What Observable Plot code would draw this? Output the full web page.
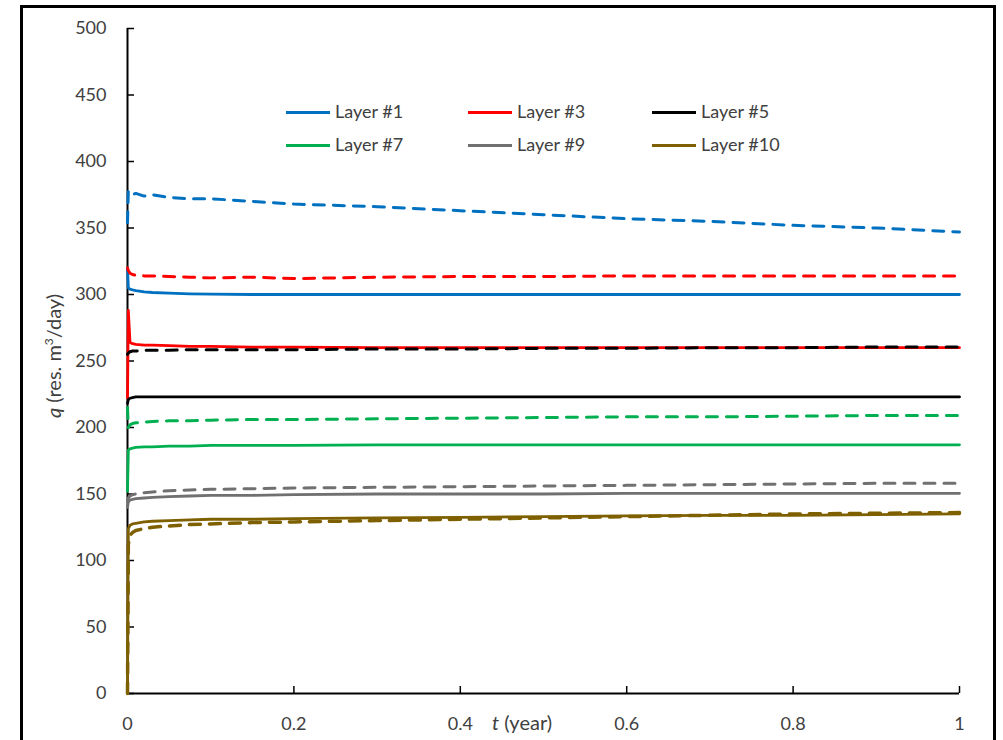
<!DOCTYPE html>
<html>
<head>
<meta charset="utf-8">
<script src="https://cdn.jsdelivr.net/npm/d3@7"></script>
<script src="https://cdn.jsdelivr.net/npm/@observablehq/plot@0.6"></script>
<style>
  html, body { margin: 0; padding: 0; background: #fff; overflow: hidden; }
  #wrap { position: relative; width: 1003px; height: 740px; font-family: Lato, "Open Sans", sans-serif; color: #404040; }
  #chart { position: absolute; left: 0; top: 0; }
  #frame { position: absolute; left: 20px; top: 5px; width: 976px; height: 800px; border: 3px solid #000; box-sizing: border-box; pointer-events: none; }
  .legend { position: absolute; font-size: 18px; line-height: 20px; white-space: nowrap; }
  .legend .sw { display: inline-block; width: 44px; height: 3px; vertical-align: middle; margin-right: 5px; position: relative; top: -1px; }
  #xtitle { position: absolute; left: 492px; top: 710px; font-size: 20px; white-space: nowrap; }
  #ytitle { position: absolute; left: 53px; top: 356px; font-size: 20px; white-space: nowrap; transform: translate(-50%, -50%) rotate(-90deg); }
</style>
</head>
<body>
<div id="wrap">
  <div id="chart"></div>
  <div id="legend"></div>
  <div id="xtitle"><i>t</i> (year)</div>
  <div id="ytitle"><i>q</i> (res. m<sup style="font-size:12px">3</sup>/day)</div>
  <div id="frame"></div>
</div>
<script>
// ---- data ----
const layers = ["Layer #1", "Layer #3", "Layer #5", "Layer #7", "Layer #9", "Layer #10"];
const colors = ["#0070C0", "#FF0000", "#000000", "#00B050", "#707070", "#7F6000"];
const xTicks = [0, 0.2, 0.4, 0.6, 0.8, 1];
const yTicks = [0, 50, 100, 150, 200, 250, 300, 350, 400, 450, 500];

const tGrid = [0, 0.001, 0.003, 0.006, 0.01, 0.02, 0.03, 0.05, 0.075, 0.1, 0.15, 0.2, 0.3, 0.4, 0.5, 0.6, 0.7, 0.8, 0.9, 1];

// solid lines
const solid1  = [320, 305, 304, 303.5, 303, 302, 301.5, 301, 300.5, 300.3, 300, 300, 300, 300, 300, 300, 300, 300, 300, 300];
const solid3  = [222, 288, 264, 263, 262.5, 262, 262, 261.5, 261, 261, 260.5, 260.5, 260, 260, 260, 260, 260, 260, 260, 260];
const solid5  = [218, 221, 222, 222.5, 223, 223, 223, 223, 223, 223, 223, 223, 223, 223, 223, 223, 223, 223, 223, 223];
const solid7  = [152, 183, 184, 184.5, 185, 185.5, 185.5, 186, 186, 186.5, 186.5, 186.5, 187, 187, 187, 187, 187, 187, 187, 187];
const solid9  = [140, 144, 145.5, 146, 146.5, 147, 147.5, 148, 148.5, 149, 149, 149.5, 150, 150, 150, 150.5, 150.5, 150.5, 150.5, 150.5];
const solid10 = [0, 124, 126.5, 127.5, 128, 129, 129.5, 130, 130.5, 131, 131, 131.5, 132, 132.5, 133, 133.5, 134, 134, 134.5, 135];

// dashed lines
const dash1  = [354, 378, 376, 375, 376, 374, 375, 373, 372, 372, 370, 368, 366, 363, 360, 357, 355, 352, 350, 347];
const dash3  = [320, 318, 316, 315, 314.5, 314, 314, 313.5, 313, 312.5, 313, 312, 313, 313.5, 313.5, 314, 314, 314, 314, 314];
const dash5  = [255, 256, 257, 257.5, 257.5, 258, 258, 258, 258.5, 258.5, 258.5, 258.5, 259, 259, 259.5, 259.5, 260, 260, 260.5, 260.5];
const dash7  = [215, 200, 202, 203, 203.5, 204, 204.5, 205, 205, 205.5, 206, 206, 206.5, 207, 207.5, 208, 208, 208.5, 209, 209];
const dash9  = [145, 147, 148.5, 149.5, 150, 151, 151.5, 152.5, 153, 153.5, 154, 154.5, 155, 155.5, 156, 156.5, 157, 157.5, 158, 158];
const dash10 = [0, 112, 119, 121, 122.5, 124, 125, 126, 127, 127.5, 128.5, 129, 130, 131, 132, 133, 134, 135, 135.5, 136];

const solidSeries = [solid1, solid3, solid5, solid7, solid9, solid10];
const dashSeries = [dash1, dash3, dash5, dash7, dash9, dash10];

// ---- build rows ----
function rows(vals) { return tGrid.map((t, i) => ({t, q: vals[i]})); }

const W = 1003, H = 740;
const mL = 127, mR = 44, mT = 28, mB = 47;
const plotW = W - mL - mR, plotH = H - mT - mB;

const marks = [
  Plot.ruleX([0], {stroke: "#000", strokeWidth: 2}),
  Plot.ruleY([0], {stroke: "#000", strokeWidth: 2}),
  Plot.tickY(yTicks, {y: d => d, stroke: "#000", strokeWidth: 1.5, insetRight: plotW - 7}),
  Plot.tickX(xTicks, {x: d => d, stroke: "#000", strokeWidth: 1.5, insetTop: plotH - 7}),
  Plot.axisY({ticks: yTicks, tickSize: 0, tickPadding: 21, tickFormat: d => String(d), label: null}),
  Plot.axisX({ticks: xTicks, tickSize: 0, tickPadding: 24, tickFormat: d => String(d), label: null})
];
solidSeries.forEach((s, i) => {
  marks.push(Plot.line(rows(s), {x: "t", y: "q", stroke: colors[i], strokeWidth: 2.8}));
});
dashSeries.forEach((s, i) => {
  marks.push(Plot.line(rows(s), {x: "t", y: "q", stroke: colors[i], strokeWidth: i === 5 ? 3.5 : 3, strokeDasharray: "11,9"}));
});

const chart = Plot.plot({
  width: W, height: H,
  marginLeft: mL, marginRight: mR, marginTop: mT, marginBottom: mB,
  x: {domain: [0, 1], axis: null},
  y: {domain: [0, 500], axis: null},
  style: {fontFamily: "Lato, 'Open Sans', sans-serif", fontSize: "18px", color: "#404040", background: "transparent"},
  marks
});
document.getElementById("chart").appendChild(chart);

// ---- legend (HTML) ----
const legendCols = [286, 468, 652];
const legendRows = [101, 134];
const leg = document.getElementById("legend");
layers.forEach((name, i) => {
  const d = document.createElement("div");
  d.className = "legend";
  d.style.left = legendCols[i % 3] + "px";
  d.style.top = legendRows[Math.floor(i / 3)] + "px";
  d.innerHTML = `<span class="sw" style="background:${colors[i]}"></span>${name}`;
  leg.appendChild(d);
});
</script>
</body>
</html>
